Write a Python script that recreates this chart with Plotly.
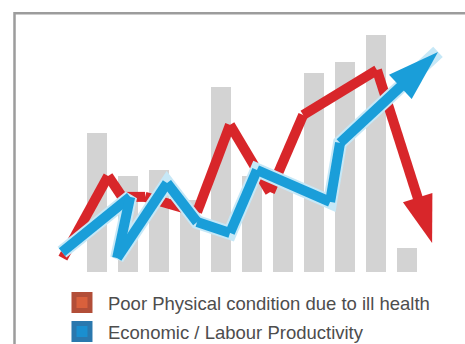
import plotly.graph_objects as go

# ---- data ----
bar_x = [1, 2, 3, 4, 5, 6, 7, 8, 9, 10, 11]
bar_values = [58, 40, 42.5, 30, 77, 40, 36, 83, 87.5, 98.75, 10]

red_x = [-0.10, 1.36, 1.81, 2.55, 4.23, 5.29, 6.58, 7.65, 10.03, 11.81]
red_y = [5.8, 40.0, 31.3, 31.3, 25.0, 61.3, 33.3, 65.4, 84.2, 12.1]

blue_x = [-0.13, 2.07, 1.65, 3.26, 4.23, 5.29, 6.16, 8.52, 8.84, 12.0]
blue_y = [8.3, 31.3, 5.8, 37.1, 20.8, 16.3, 42.5, 29.2, 53.8, 91.7]

legend_names = ["Poor Physical condition due to ill health",
                "Economic / Labour Productivity"]

RED = "#d8262a"
BLUE = "#1a9ed9"

fig = go.Figure()

fig.add_trace(go.Bar(x=bar_x, y=bar_values, width=0.62,
                     marker=dict(color="#d3d3d3", line=dict(width=0)),
                     showlegend=False, hoverinfo="skip"))


def arrow_marker(n, color, size):
    return dict(symbol=["circle"] * (n - 1) + ["arrow"],
                size=[0] * (n - 1) + [size],
                angleref="previous", color=color, opacity=1,
                line=dict(width=0))


fig.add_trace(go.Scatter(x=red_x, y=red_y, mode="lines+markers",
                         line=dict(color=RED, width=10),
                         marker=arrow_marker(len(red_x), RED, 50),
                         showlegend=False, hoverinfo="skip"))

fig.add_trace(go.Scatter(x=blue_x, y=blue_y, mode="lines",
                         line=dict(color="#c6e8f7", width=14),
                         showlegend=False, hoverinfo="skip"))
fig.add_trace(go.Scatter(x=blue_x, y=blue_y, mode="lines+markers",
                         line=dict(color=BLUE, width=10),
                         marker=arrow_marker(len(blue_x), BLUE, 54),
                         showlegend=False, hoverinfo="skip"))

# legend-only entries
for i, (name, fill, edge) in enumerate(zip(legend_names, ["#d9603c", "#1a8fd0"],
                                           ["#b24e38", "#2a78ae"])):
    fig.add_trace(go.Scatter(x=[None], y=[None], mode="markers", name=name,
                             legendgroup=f"g{i}",
                             marker=dict(symbol="square", size=16, color=fill,
                                         line=dict(color=edge, width=5))))

fig.update_layout(
    width=465, height=344,
    margin=dict(l=0, r=0, t=0, b=0, autoexpand=False),
    paper_bgcolor="white", plot_bgcolor="white",
    xaxis=dict(range=[-2.129, 12.871], visible=False, fixedrange=True),
    yaxis=dict(range=[-30, 113.333], visible=False, fixedrange=True),
    bargap=0,
    legend=dict(x=0.1204, y=0.1744, xanchor="left", yanchor="top",
                font=dict(family="Liberation Sans, Arial", size=18.5, color="#4d4d4d"),
                bgcolor="rgba(0,0,0,0)", itemsizing="trace", tracegroupgap=2,
                itemwidth=42),
    shapes=[dict(type="rect", xref="paper", yref="paper",
                 x0=14.5 / 465, x1=1.05, y0=-0.05, y1=1 - 13.3 / 344,
                 line=dict(color="#9c9c9c", width=2.5), layer="below")],
    showlegend=True,
)

fig.write_html("out.html")
